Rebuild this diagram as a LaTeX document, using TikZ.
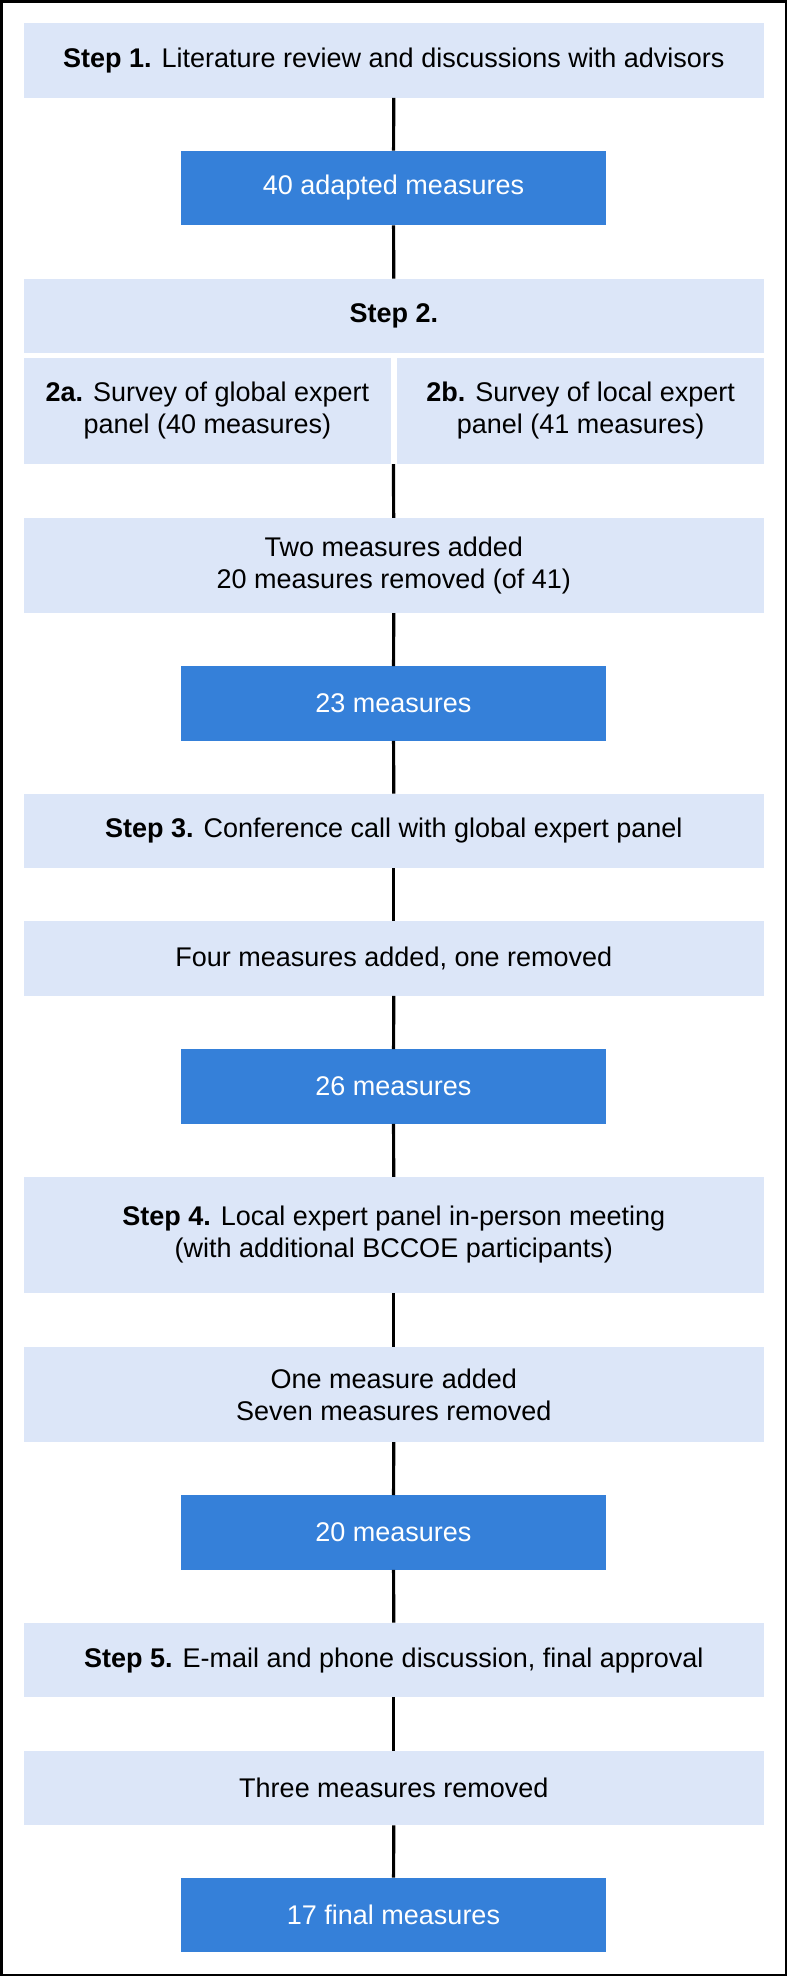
\documentclass[tikz,border=0pt]{standalone}
\usepackage{fontspec}
\setmainfont{Liberation Sans}
\usepackage{xcolor}
\usepackage{tikz}
\definecolor{stepfill}{HTML}{DCE6F8}
\definecolor{countfill}{HTML}{3580D9}

\begin{document}
\begin{tikzpicture}[x=1pt,y=-1pt,
  every node/.style={font=\fontsize{27}{32}\selectfont, align=center, inner sep=0pt},
  stepbox/.style={fill=stepfill, minimum width=740.4pt, minimum height=74.5pt},
  halfbox/.style={fill=stepfill, minimum width=367.6pt, minimum height=106pt},
  countbox/.style={fill=countfill, text=white, minimum width=425pt, minimum height=74.5pt},
  link/.style={line width=3.2pt}]
\useasboundingbox (0,0) rectangle (787,1976);
\draw[line width=2.5pt] (1.25,1.25) rectangle (785.75,1974.75);

\node[stepbox]  (s1)    at (393.8,60.5)  {\textbf{Step 1.} Literature review and discussions with advisors};
\node[countbox] (m40)   at (393.5,188)   {40 adapted measures};
\node[stepbox]  (s2)    at (393.8,316)   {\textbf{Step 2.}};
\node[halfbox]  (s2a)   at (207.4,411)   {\textbf{2a.} Survey of global expert\\panel (40 measures)};
\node[halfbox]  (s2b)   at (580.6,411)   {\textbf{2b.} Survey of local expert\\panel (41 measures)};
\node[stepbox, minimum height=95pt] (r2) at (393.8,565.5) {Two measures added\\20 measures removed (of 41)};
\node[countbox] (m23)   at (393.5,703.5) {23 measures};
\node[stepbox]  (s3)    at (393.8,831)   {\textbf{Step 3.} Conference call with global expert panel};
\node[stepbox]  (r3)    at (393.8,958.5) {Four measures added, one removed};
\node[countbox] (m26)   at (393.5,1086.5) {26 measures};
\node[stepbox, minimum height=116pt] (s4) at (393.8,1235) {\textbf{Step 4.} Local expert panel in-person meeting\\(with additional BCCOE participants)};
\node[stepbox, minimum height=95pt] (r4) at (393.8,1394.5) {One measure added\\Seven measures removed};
\node[countbox] (m20)   at (393.5,1532.5) {20 measures};
\node[stepbox]  (s5)    at (393.8,1660)  {\textbf{Step 5.} E-mail and phone discussion, final approval};
\node[stepbox]  (r5)    at (393.8,1788)  {Three measures removed};
\node[countbox] (m17)   at (393.5,1915)  {17 final measures};

\draw[link] (s1) -- (m40);
\draw[link] (m40) -- (s2);
\draw[link] (s2a.south -| m40.south) -- (r2);
\draw[link] (r2) -- (m23);
\draw[link] (m23) -- (s3);
\draw[link] (s3) -- (r3);
\draw[link] (r3) -- (m26);
\draw[link] (m26) -- (s4);
\draw[link] (s4) -- (r4);
\draw[link] (r4) -- (m20);
\draw[link] (m20) -- (s5);
\draw[link] (s5) -- (r5);
\draw[link] (r5) -- (m17);
\end{tikzpicture}
\end{document}
